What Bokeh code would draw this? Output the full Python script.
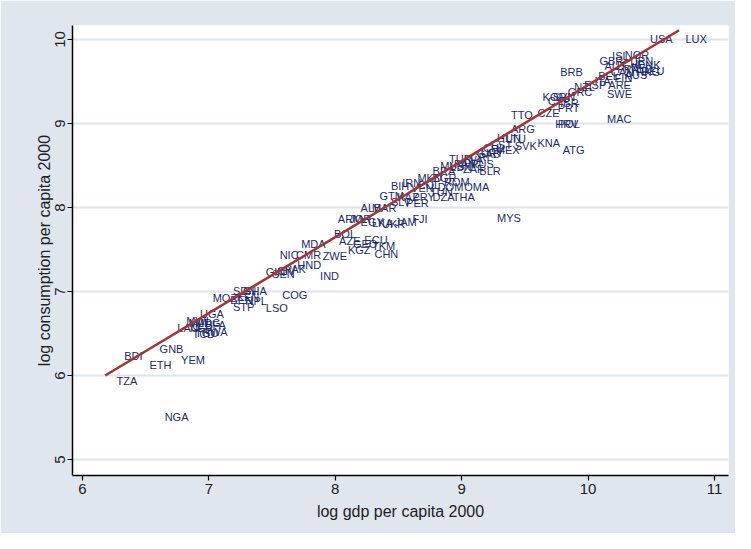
from bokeh.plotting import figure
from bokeh.models import ColumnDataSource, Range1d, FixedTicker
from bokeh.core.properties import value
from bokeh.embed import file_html
from bokeh.resources import INLINE

countries = ["USA", "LUX", "GBR", "ISL", "NOR", "JPN", "CHE", "DNK", "AUT", "FRA",
             "NLD", "DEU", "CAN", "AUS", "HKG", "BEL", "FIN", "BRB", "ITA", "ARE",
             "ESP", "NZL", "SWE", "MAC", "GRC", "KOR", "SVN", "ISR", "CYP", "PRT",
             "CZE", "TTO", "HRV", "POL", "ARG", "HUN", "LTU", "KNA", "SVK", "ATG",
             "EST", "CHL", "MEX", "URY", "GAB", "CRI", "TUR", "LVA", "PAN", "MUS",
             "LBN", "ZAF", "BLR", "RUS", "BRA", "MKD", "BGR", "ROM", "IRN", "COL",
             "BIH", "DOM", "OMA", "VEN", "TUN", "GTM", "THA", "KAZ", "PRY", "DZA",
             "SLV", "PER", "ALB", "MAR", "MYS", "ARM", "JOR", "EGY", "LKA", "UKR",
             "JAM", "FJI", "BOL", "AZE", "ECU", "GEO", "KGZ", "TKM", "CHN", "MDA",
             "NIC", "CMR", "ZWE", "HND", "PAK", "GIN", "SEN", "CIV", "IND", "GHA",
             "SDN", "KEN", "MOZ", "BEN", "NPL", "COG", "STP", "LSO", "UGA", "MWI",
             "MDG", "BFA", "LAO", "NER", "RWA", "TCD", "MLI", "TGO", "GNB", "BDI",
             "ETH", "YEM", "TZA", "NGA"]

log_gdp = [10.49, 10.77, 10.09, 10.19, 10.29, 10.35, 10.27, 10.39, 10.13, 10.23,
           10.34, 10.42, 10.18, 10.29, 10.38, 10.08, 10.21, 9.78, 10.05, 10.16,
           9.97, 9.89, 10.15, 10.15, 9.84, 9.64, 9.72, 9.78, 9.68, 9.76,
           9.60, 9.39, 9.74, 9.76, 9.39, 9.28, 9.35, 9.60, 9.42, 9.80,
           9.23, 9.17, 9.27, 9.15, 9.12, 9.07, 8.90, 9.02, 8.94, 8.83,
           8.91, 9.01, 9.14, 9.07, 8.77, 8.65, 8.77, 8.86, 8.53, 8.65,
           8.44, 8.81, 9.02, 8.60, 8.75, 8.35, 8.93, 8.49, 8.61, 8.77,
           8.44, 8.56, 8.20, 8.29, 9.28, 8.02, 8.11, 8.20, 8.29, 8.37,
           8.47, 8.61, 7.99, 8.03, 8.23, 8.14, 8.10, 8.29, 8.31, 7.73,
           7.56, 7.69, 7.90, 7.70, 7.60, 7.45, 7.50, 7.54, 7.88, 7.27,
           7.19, 7.22, 7.03, 7.17, 7.29, 7.58, 7.19, 7.45, 6.93, 6.82,
           6.89, 6.97, 6.75, 6.85, 6.95, 6.87, 6.84, 6.89, 6.61, 6.33,
           6.53, 6.78, 6.27, 6.65]

log_cons = [10.01, 10.01, 9.75, 9.80, 9.81, 9.75, 9.71, 9.70, 9.68, 9.65,
            9.65, 9.63, 9.61, 9.58, 9.61, 9.56, 9.54, 9.61, 9.51, 9.46,
            9.46, 9.43, 9.35, 9.05, 9.37, 9.32, 9.32, 9.25, 9.27, 9.18,
            9.12, 9.10, 9.00, 8.99, 8.93, 8.83, 8.82, 8.77, 8.73, 8.68,
            8.75, 8.71, 8.69, 8.65, 8.64, 8.60, 8.58, 8.56, 8.52, 8.50,
            8.48, 8.46, 8.44, 8.52, 8.44, 8.35, 8.35, 8.30, 8.29, 8.27,
            8.26, 8.24, 8.24, 8.23, 8.18, 8.14, 8.13, 8.13, 8.13, 8.13,
            8.06, 8.05, 8.00, 7.99, 7.87, 7.86, 7.86, 7.83, 7.81, 7.80,
            7.83, 7.86, 7.68, 7.60, 7.61, 7.56, 7.49, 7.54, 7.45, 7.56,
            7.43, 7.44, 7.42, 7.31, 7.27, 7.23, 7.21, 7.25, 7.19, 7.01,
            7.01, 6.93, 6.92, 6.90, 6.89, 6.96, 6.81, 6.80, 6.73, 6.65,
            6.63, 6.60, 6.57, 6.56, 6.52, 6.50, 6.62, 6.51, 6.31, 6.23,
            6.13, 6.18, 5.94, 5.51]

fit_x = [6.18, 10.72]
fit_y = [6.00, 10.11]

x_ticks = [6, 7, 8, 9, 10, 11]
y_ticks = [5, 6, 7, 8, 9, 10]

FONT = "Liberation Sans"

p = figure(width=735, height=533, output_backend="svg", toolbar_location=None,
           x_range=Range1d(5.921, 11.111), y_range=Range1d(4.810, 10.167),
           min_border_left=72, min_border_right=7, min_border_top=25, min_border_bottom=58)

p.background_fill_color = "white"
p.border_fill_color = "#e0e6ee"
p.outline_line_color = None

p.xgrid.grid_line_color = None
p.ygrid.grid_line_color = "#dde4ee"
p.ygrid.grid_line_width = 2

p.xaxis.ticker = FixedTicker(ticks=x_ticks)
p.yaxis.ticker = FixedTicker(ticks=y_ticks)

for ax in (p.xaxis, p.yaxis):
    ax.axis_line_color = "black"
    ax.axis_line_width = 1.5
    ax.major_tick_line_color = "black"
    ax.major_tick_line_width = 1.2
    ax.major_tick_out = 5
    ax.major_tick_in = 0
    ax.minor_tick_line_color = None
    ax.major_label_text_font = FONT
    ax.major_label_text_font_size = "15px"
    ax.major_label_text_color = "#222222"
    ax.axis_label_text_font = FONT
    ax.axis_label_text_font_size = "16px"
    ax.axis_label_text_font_style = "normal"
    ax.axis_label_text_color = "#222222"

p.xaxis.axis_label = "log gdp per capita 2000"
p.yaxis.axis_label = "log consumption per capita 2000"
p.yaxis.major_label_orientation = "vertical"
p.yaxis.major_label_standoff = 2
p.yaxis.axis_label_standoff = 0
p.xaxis.major_label_standoff = 3
p.xaxis.axis_label_standoff = 6

src = ColumnDataSource(dict(x=log_gdp, y=log_cons, code=countries))
p.text(x="x", y="y", text="code", source=src, text_font=value(FONT),
       text_font_size="11px", text_align="left", text_baseline="middle",
       text_color="#1c2b6a")

p.line(fit_x, fit_y, line_color="#a33535", line_width=2.5)

open("out.html", "w").write(file_html(p, INLINE))
